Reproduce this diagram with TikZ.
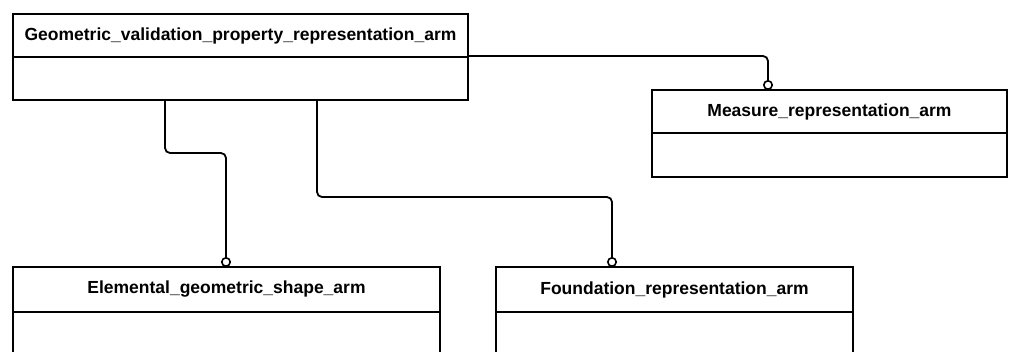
\documentclass[tikz,border=0pt]{standalone}
\usepackage{fontspec}
\newfontfamily\umlfont{Liberation Sans}
\usetikzlibrary{arrows.meta,positioning}
\tikzset{>=Stealth,
 classhead/.style={draw,line width=2pt,inner sep=0pt,outer sep=0pt,minimum height=43pt,font=\umlfont\bfseries\fontsize{17.5}{17.5}\selectfont},
 classbody/.style={draw,line width=2pt,inner sep=0pt,outer sep=0pt,minimum height=43pt},
 link/.style={line width=1.8pt,rounded corners=5pt,-{Circle[open,length=10pt,width=10pt,line width=1.6pt]}}}

\begin{document}
\begin{tikzpicture}[x=1pt,y=-1pt]
\useasboundingbox (0,0) rectangle (1009,351);
% classes
\node[classhead,anchor=north west,minimum width=455pt] (gvhead) at (13,14) {Geometric\_validation\_property\_representation\_arm};
\node[classbody,minimum width=455pt,below=0pt of gvhead] (gvbody) {};
\node[classhead,anchor=north west,minimum width=355pt] (mshead) at (652,90) {Measure\_representation\_arm};
\node[classbody,minimum width=355pt,minimum height=44pt,below=0pt of mshead] (msbody) {};
\node[classhead,anchor=north west,minimum width=427pt,minimum height=45pt] (elehead) at (13,267) {Elemental\_geometric\_shape\_arm};
\node[classbody,minimum width=427pt,minimum height=60pt,below=0pt of elehead] (elebody) {};
\node[classhead,anchor=north west,minimum width=357pt,minimum height=45pt] (fdhead) at (496,267) {Foundation\_representation\_arm};
\node[classbody,minimum width=357pt,minimum height=60pt,below=0pt of fdhead] (fdbody) {};
% relations
\draw[link] ([xshift=152pt]gvbody.south west) -- ++(0,53) -| ([xshift=213pt]elehead.north west);
\draw[link] ([xshift=304pt]gvbody.south west) -- ++(0,97) -| ([xshift=116pt]fdhead.north west);
\draw[link] ([yshift=1pt]gvhead.south east) -| ([xshift=116pt]mshead.north west);
\end{tikzpicture}
\end{document}
